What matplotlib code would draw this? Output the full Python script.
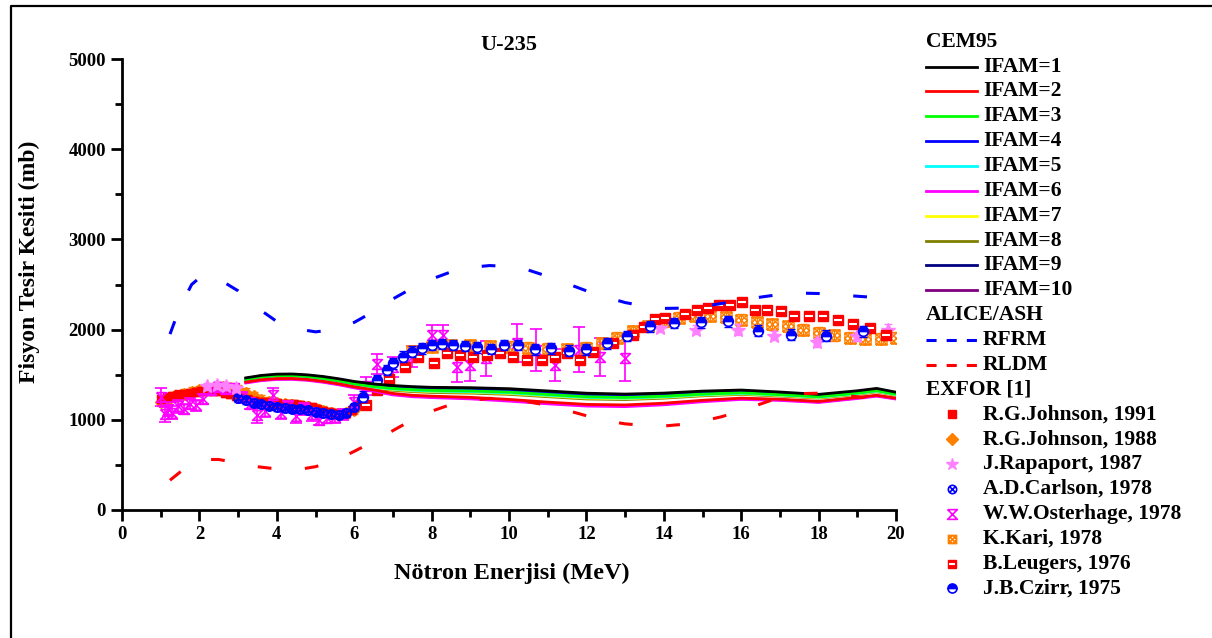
import matplotlib
matplotlib.use("Agg")
import matplotlib.pyplot as plt
from matplotlib.path import Path

plt.rcParams["font.family"] = ["Liberation Serif", "DejaVu Serif"]
plt.rcParams["font.weight"] = "bold"

# CEM95 hesaplari (IFAM = 1..10)
cem_e = [3.2, 3.6, 4.0, 4.4, 4.8, 5.2, 5.6, 6.0, 6.5, 7.0, 7.5, 8.0, 9.0, 10.0,
         11.0, 12.0, 13.0, 14.0, 15.0, 16.0, 17.0, 18.0, 19.0, 19.5, 20.0]
ifam1 = [1465, 1492, 1506, 1508, 1498, 1480, 1455, 1425, 1398, 1380, 1368, 1360, 1356, 1345,
         1320, 1295, 1285, 1296, 1318, 1330, 1308, 1282, 1322, 1348, 1306]
ifam2 = [1418, 1444, 1457, 1458, 1447, 1426, 1399, 1366, 1332, 1292, 1272, 1262, 1249, 1226,
         1196, 1171, 1165, 1184, 1216, 1240, 1228, 1204, 1248, 1272, 1240]
ifam3 = [1448, 1476, 1490, 1491, 1480, 1460, 1432, 1400, 1369, 1348, 1335, 1326, 1320, 1307,
         1281, 1256, 1248, 1262, 1286, 1300, 1280, 1256, 1297, 1324, 1285]
ifam4 = [1452, 1480, 1494, 1496, 1485, 1465, 1438, 1406, 1376, 1356, 1343, 1335, 1329, 1316,
         1290, 1265, 1257, 1270, 1294, 1307, 1287, 1262, 1303, 1330, 1290]
ifam5 = [1445, 1472, 1486, 1487, 1476, 1455, 1427, 1394, 1363, 1342, 1328, 1319, 1312, 1299,
         1273, 1248, 1240, 1255, 1280, 1294, 1275, 1251, 1292, 1319, 1281]
ifam6 = [1408, 1434, 1447, 1448, 1437, 1416, 1388, 1354, 1318, 1276, 1256, 1246, 1232, 1207,
         1177, 1152, 1146, 1166, 1200, 1226, 1215, 1192, 1236, 1262, 1230]
ifam7 = [1442, 1469, 1483, 1484, 1472, 1451, 1422, 1389, 1357, 1336, 1322, 1313, 1306, 1292,
         1266, 1241, 1234, 1249, 1274, 1289, 1270, 1246, 1288, 1315, 1277]
ifam8 = [1438, 1465, 1478, 1479, 1467, 1445, 1416, 1382, 1349, 1327, 1313, 1303, 1296, 1282,
         1256, 1231, 1224, 1240, 1266, 1282, 1263, 1240, 1282, 1310, 1272]
ifam9 = [1458, 1486, 1500, 1502, 1492, 1473, 1447, 1416, 1387, 1368, 1356, 1348, 1343, 1331,
         1305, 1280, 1271, 1283, 1306, 1318, 1297, 1272, 1312, 1338, 1298]
ifam10 = [1414, 1440, 1453, 1454, 1443, 1422, 1394, 1360, 1325, 1284, 1264, 1254, 1240, 1216,
          1186, 1161, 1155, 1175, 1208, 1233, 1222, 1198, 1242, 1267, 1235]

ifam_colors = ["#000000", "#FF0000", "#00FF00", "#0000FF", "#00FFFF",
               "#FF00FF", "#FFFF00", "#808000", "#000080", "#800080"]
ifam_all = [ifam1, ifam2, ifam3, ifam4, ifam5, ifam6, ifam7, ifam8, ifam9, ifam10]

# ALICE/ASH
alice_e = [1.24, 1.5, 1.8, 2.1, 2.5, 3.0, 3.5, 4.0, 4.5, 5.0, 5.5, 6.0, 6.5, 7.0, 7.5, 8.0,
           8.5, 9.0, 9.5, 10.0, 10.5, 11.0, 11.5, 12.0, 12.5, 13.0, 13.5, 14.0, 14.5, 15.0,
           15.5, 16.0, 16.5, 17.0, 17.5, 18.0, 18.5, 19.0, 19.5, 20.0]
rfrm = [1950, 2250, 2500, 2610, 2560, 2430, 2240, 2090, 2010, 1975, 2000, 2080, 2200, 2340,
        2460, 2560, 2640, 2690, 2710, 2700, 2660, 2590, 2510, 2430, 2360, 2300, 2260, 2235,
        2238, 2255, 2290, 2325, 2360, 2390, 2405, 2400, 2385, 2370, 2355, 2350]
rldm = [330, 420, 510, 560, 560, 520, 480, 455, 445, 480, 545, 650, 760, 880, 1000, 1095,
        1170, 1215, 1238, 1225, 1200, 1160, 1105, 1045, 990, 955, 938, 931, 950, 985, 1035,
        1100, 1175, 1250, 1290, 1295, 1280, 1255, 1232, 1220]

# EXFOR deneysel verileri
jo91_e = [1.0, 1.15, 1.3, 1.45, 1.6, 1.75, 1.9, 2.05, 2.2, 2.35, 2.5, 2.65, 2.8, 2.95, 3.1,
          3.25, 3.4, 3.55, 3.7, 3.85, 4.0, 4.15, 4.3, 4.45, 4.6, 4.75, 4.9, 5.05, 5.2, 5.35,
          5.5, 5.65, 5.8, 5.95, 6.1]
jo91 = [1230, 1250, 1265, 1280, 1290, 1300, 1310, 1320, 1325, 1322, 1315, 1300, 1285, 1265,
        1240, 1225, 1210, 1200, 1195, 1190, 1185, 1180, 1178, 1172, 1165, 1155, 1140, 1120,
        1100, 1085, 1070, 1065, 1075, 1110, 1160]

jo88_e = [1.0, 1.2, 1.4, 1.6, 1.8, 2.0, 2.2, 2.4, 2.6, 2.8, 3.0, 3.2, 3.4, 3.6, 3.8, 4.0,
          4.2, 4.4, 4.6, 4.8, 5.0, 5.2, 5.4, 5.6, 5.8, 6.0]
jo88 = [1200, 1235, 1265, 1290, 1310, 1330, 1345, 1355, 1360, 1355, 1335, 1300, 1260, 1225,
        1200, 1185, 1175, 1165, 1155, 1140, 1120, 1100, 1080, 1065, 1070, 1110]

rap_e = [2.2, 2.45, 2.7, 2.95, 13.9, 14.82, 15.93, 16.85, 17.96, 19.0, 19.8]
rap = [1370, 1385, 1375, 1350, 2018, 2000, 2000, 1930, 1860, 1925, 2000]
rap_err = [40, 40, 40, 40, 50, 50, 60, 50, 50, 50, 60]

carl_e = [3.0, 3.2, 3.4, 3.6, 3.8, 4.0, 4.2, 4.4, 4.6, 4.8, 5.0, 5.2, 5.4, 5.6, 5.8, 6.0, 6.2]
carl = [1240, 1215, 1190, 1170, 1155, 1140, 1130, 1125, 1115, 1105, 1090, 1075, 1060, 1055,
        1080, 1140, 1230]

ost_e = [1.0, 1.1, 1.2, 1.3, 1.45, 1.6, 1.75, 1.9, 2.1, 2.3, 2.5, 2.7, 2.9, 3.1, 3.3, 3.5,
         3.7, 3.9, 4.1, 4.3, 4.5, 4.7, 4.9, 5.1, 5.3, 5.5, 5.7, 6.0, 6.3, 6.6, 7.0, 7.5, 8.0,
         8.3, 8.65, 9.0, 9.4, 10.2, 10.7, 11.2, 11.8, 12.35, 13.0]
ost = [1250, 1060, 1120, 1080, 1150, 1120, 1180, 1160, 1230, 1330, 1360, 1340, 1350, 1250,
       1180, 1050, 1100, 1270, 1080, 1150, 1040, 1120, 1060, 1000, 1020, 1030, 1060, 1200,
       1380, 1620, 1590, 1700, 1940, 1940, 1590, 1610, 1680, 1850, 1775, 1610, 1775, 1700,
       1680]
ost_err = [100, 80, 80, 70, 70, 60, 60, 60, 60, 60, 50, 50, 50, 60, 60, 80, 70, 80, 70, 60,
           70, 70, 70, 60, 60, 60, 60, 80, 100, 110, 110, 120, 110, 110, 170, 180, 190, 210,
           230, 180, 250, 210, 250]

kari_e = [7.5, 8.0, 8.5, 9.0, 9.5, 10.0, 10.5, 11.0, 11.5, 12.0, 12.4, 12.8, 13.2, 13.6,
          14.0, 14.4, 14.8, 15.2, 15.6, 16.0, 16.4, 16.8, 17.2, 17.6, 18.0, 18.4, 18.8, 19.2,
          19.6, 20.0]
kari = [1760, 1810, 1830, 1825, 1815, 1810, 1800, 1790, 1785, 1800, 1850, 1910, 1980, 2040,
        2090, 2130, 2150, 2150, 2135, 2110, 2085, 2060, 2035, 2000, 1965, 1935, 1910, 1900,
        1900, 1910]

leu_e = [6.3, 6.6, 6.9, 7.3, 7.66, 8.05, 8.39, 8.73, 9.08, 9.42, 9.77, 10.11, 10.46, 10.85,
         11.19, 11.49, 11.83, 12.18, 12.7, 13.21, 13.5, 13.78, 14.04, 14.56, 14.85, 15.13,
         15.42, 15.7, 16.02, 16.35, 16.67, 17.02, 17.37, 17.74, 18.11, 18.5, 18.9, 19.32, 19.73]
leu = [1165, 1330, 1450, 1590, 1700, 1635, 1737, 1718, 1700, 1718, 1737, 1700, 1663, 1663,
       1700, 1737, 1663, 1755, 1848, 1940, 2030, 2119, 2130, 2175, 2213, 2243, 2268, 2268,
       2309, 2213, 2213, 2205, 2156, 2156, 2149, 2111, 2066, 2018, 1943]

czi_e = [6.24, 6.58, 6.84, 7.0, 7.25, 7.49, 7.74, 8.0, 8.28, 8.56, 8.86, 9.18, 9.53, 9.88,
         10.24, 10.67, 11.09, 11.55, 12.0, 12.52, 13.06, 13.64, 14.26, 14.95, 15.67, 16.44,
         17.29, 18.18, 19.16]
czi = [1256, 1441, 1552, 1626, 1700, 1755, 1792, 1829, 1840, 1829, 1818, 1804, 1785, 1829,
       1829, 1781, 1792, 1766, 1781, 1848, 1929, 2035, 2073, 2081, 2093, 1988, 1943, 1931, 1980]

# ozel isaretler
hourglass = Path([(-1, 1), (1, 1), (-1, -1), (1, -1), (-1, 1)])
hv = [(-1, -1), (1, -1), (1, 1), (-1, 1), (-1, -1),
      (-1, 0), (0, 1), (-1, -1), (1, 1), (0, -1), (1, 0),
      (-1, 0), (0, -1), (-1, 1), (1, -1), (0, 1), (1, 0)]
hc = [Path.MOVETO, Path.LINETO, Path.LINETO, Path.LINETO, Path.LINETO,
      Path.MOVETO, Path.LINETO, Path.MOVETO, Path.LINETO, Path.MOVETO, Path.LINETO,
      Path.MOVETO, Path.LINETO, Path.MOVETO, Path.LINETO, Path.MOVETO, Path.LINETO]
hatched = Path(hv, hc)
otimes = Path.make_compound_path(
    Path.unit_circle(),
    Path([(-0.7, -0.7), (0.7, 0.7)], [Path.MOVETO, Path.LINETO]),
    Path([(-0.7, 0.7), (0.7, -0.7)], [Path.MOVETO, Path.LINETO]))

RED = "#FF0000"
ORANGE = "#FF8000"
VIOLET = "#FF80FF"
BLUE = "#0000FF"
MAGENTA = "#FF00FF"

fig = plt.figure(figsize=(12.12, 6.38), dpi=100)
ax = fig.add_axes([122 / 1212, 1 - 510 / 638, 774 / 1212, 451 / 638])

# deneysel noktalar
ax.errorbar(jo88_e, jo88, yerr=50, fmt="none", ecolor=ORANGE, elinewidth=1, capsize=3,
            zorder=3)
ax.plot(jo88_e, jo88, ls="none", marker="D", ms=6, color=ORANGE, mec=ORANGE, zorder=3)
ax.errorbar(jo91_e, jo91, yerr=45, fmt="none", ecolor=RED, elinewidth=1, capsize=3, zorder=3)
ax.plot(jo91_e, jo91, ls="none", marker="s", ms=6, color=RED, mec=RED, zorder=3)
ax.errorbar(ost_e, ost, yerr=ost_err, fmt="none", ecolor=MAGENTA, elinewidth=1.2,
            capsize=4, capthick=1.2, zorder=3)
ax.plot(ost_e, ost, ls="none", marker=hourglass, ms=7, mfc="none", mec=MAGENTA,
        mew=1.2, zorder=3)
ax.errorbar(carl_e, carl, yerr=40, fmt="none", ecolor=BLUE, elinewidth=1, capsize=3,
            zorder=3.5)
ax.plot(carl_e, carl, ls="none", marker=otimes, ms=6.5, mfc="none", mec=BLUE, mew=1.4,
        zorder=3.5)
ax.errorbar(kari_e, kari, yerr=60, fmt="none", ecolor=ORANGE, elinewidth=1, capsize=3,
            zorder=4)
ax.plot(kari_e, kari, ls="none", marker=hatched, ms=8, mfc="none", mec=ORANGE, mew=1,
        zorder=4)
ax.errorbar(rap_e, rap, yerr=rap_err, fmt="none", ecolor=VIOLET, elinewidth=1, capsize=3,
            zorder=4)
ax.plot(rap_e, rap, ls="none", marker="*", ms=10, color=VIOLET, mec=VIOLET, zorder=4)
ax.plot(leu_e, leu, ls="none", marker="s", ms=7, color=RED, mec=RED, zorder=5)
ax.plot(leu_e, leu, ls="none", marker="_", ms=6, mec="white", mew=1.5, zorder=5)
ax.errorbar(czi_e, czi, yerr=60, fmt="none", ecolor=BLUE, elinewidth=1, capsize=3, zorder=6)
ax.plot(czi_e, czi, ls="none", marker="o", ms=7, fillstyle="top", mfc=BLUE,
        mfcalt="white", mec=BLUE, mew=1.2, zorder=6)

# model egrileri
for yv, c in zip(ifam_all[::-1], ifam_colors[::-1]):
    ax.plot(cem_e, yv, color=c, lw=2, zorder=7)
ax.plot(alice_e, rfrm, color=BLUE, lw=2.2, dashes=(4.5, 11), zorder=7)
ax.plot(alice_e, rldm, color=RED, lw=2.2, dashes=(4.5, 11), zorder=7)

ax.set_xlim(0, 20)
ax.set_ylim(0, 5000)
ax.set_xticks(range(0, 21, 2))
ax.set_xticks(range(1, 20, 2), minor=True)
ax.set_yticks(range(0, 5001, 1000))
ax.set_yticks(range(500, 5000, 1000), minor=True)
ax.tick_params(which="major", direction="out", length=8, width=2, labelsize=13.5)
ax.tick_params(which="minor", direction="out", length=5, width=2)
for s in ["top", "right"]:
    ax.spines[s].set_visible(False)
for s in ["left", "bottom"]:
    ax.spines[s].set_linewidth(2)

ax.set_xlabel("Nötron Enerjisi (MeV)", fontsize=17.5, fontweight="bold")
ax.set_ylabel("Fisyon Tesir Kesiti (mb)", fontsize=17, fontweight="bold")
ax.xaxis.set_label_coords(0.503, -0.1175)
ax.yaxis.set_label_coords(-0.106, 0.55)
ax.text(0.5, 1.031, "U-235", transform=ax.transAxes, ha="center", va="center",
        fontsize=16, fontweight="bold")

# sag taraftaki aciklama ve cerceve (piksel koordinatlari)
lax = fig.add_axes([0, 0, 1, 1], zorder=10)
lax.set_xlim(0, 1212)
lax.set_ylim(638, 0)
lax.axis("off")
lax.plot([10.5, 10.5, 1212], [638, 5.5, 5.5], color="black", lw=1.6, clip_on=False)

row = 24.85
y0 = 41.7
tx = 983
fs = 15.5

headers = {0: "CEM95", 11: "ALICE/ASH", 14: "EXFOR [1]"}
for i, h in headers.items():
    lax.text(926, y0 + i * row, h, ha="left", va="center", fontsize=fs, fontweight="bold")

for k in range(10):
    yy = y0 + (k + 1) * row
    lax.plot([926, 977], [yy, yy], color=ifam_colors[k], lw=2)
    lax.text(tx, yy, "IFAM=%d" % (k + 1), ha="left", va="center", fontsize=fs,
             fontweight="bold")

for i, (lab, c) in enumerate([("RFRM", BLUE), ("RLDM", RED)]):
    yy = y0 + (12 + i) * row
    lax.plot([926, 977], [yy, yy], color=c, lw=2.2, dashes=(3.3, 3.3))
    lax.text(tx, yy, lab, ha="left", va="center", fontsize=fs, fontweight="bold")

exfor_labels = ["R.G.Johnson, 1991", "R.G.Johnson, 1988", "J.Rapaport, 1987",
                "A.D.Carlson, 1978", "W.W.Osterhage, 1978", "K.Kari, 1978",
                "B.Leugers, 1976", "J.B.Czirr, 1975"]
mx = 952
ys = [y0 + (15 + i) * row for i in range(8)]
lax.plot(mx, ys[0], marker="s", ms=6, color=RED)
lax.plot(mx, ys[1], marker="D", ms=6, color=ORANGE)
lax.plot(mx, ys[2], marker="*", ms=9, color=VIOLET)
lax.plot(mx, ys[3], marker=otimes, ms=6, mfc="none", mec=BLUE, mew=1.2)
lax.plot(mx, ys[4], marker=hourglass, ms=7, mfc="none", mec=MAGENTA, mew=1.2)
lax.plot(mx, ys[5], marker=hatched, ms=6, mfc="none", mec=ORANGE, mew=1)
lax.plot(mx, ys[6], marker="s", ms=6, color=RED)
lax.plot(mx, ys[6], marker="_", ms=5, mec="white", mew=1.5)
lax.plot(mx, ys[7], marker="o", ms=6.5, fillstyle="top", mfc=BLUE, mfcalt="white",
         mec=BLUE, mew=1.2)
for yy, lab in zip(ys, exfor_labels):
    lax.text(tx, yy, lab, ha="left", va="center", fontsize=fs, fontweight="bold")

fig.savefig("out.png", dpi=100)
